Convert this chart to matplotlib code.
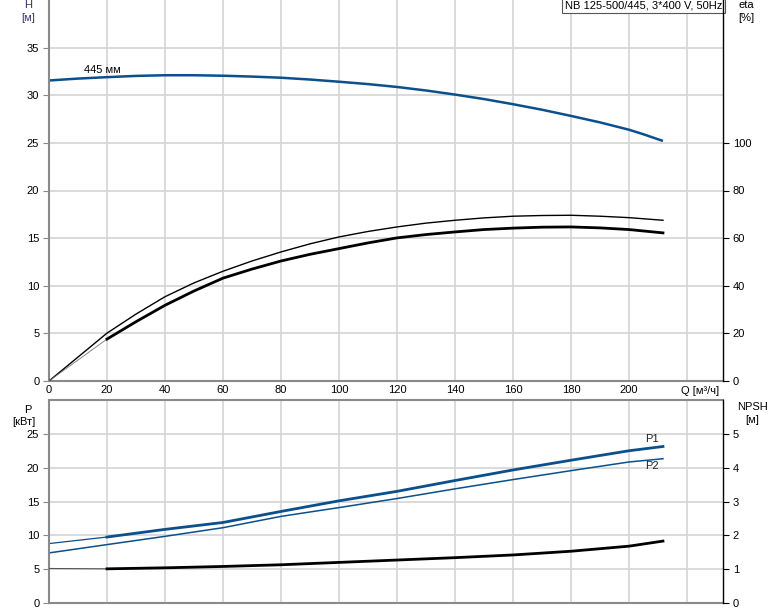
import numpy as np
import matplotlib.pyplot as plt
from matplotlib.transforms import blended_transform_factory

plt.rcParams['font.family'] = ['Liberation Sans', 'DejaVu Sans']
plt.rcParams['font.size'] = 8

# flow, m3/h
q_h = [0, 10, 20, 30, 40, 50, 60, 70, 80, 90, 100, 110, 120, 130, 140, 150,
       160, 170, 180, 190, 200, 205, 211.7]
head = [31.55, 31.75, 31.9, 32.03, 32.1, 32.1, 32.05, 31.96, 31.84, 31.65, 31.42,
        31.17, 30.87, 30.5, 30.07, 29.6, 29.06, 28.48, 27.83, 27.15, 26.38, 25.9, 25.2]

# efficiency, %
q_eta = [0, 20, 30, 40, 50, 60, 70, 80, 90, 100, 110, 120, 130, 140, 150,
         160, 170, 180, 190, 200, 211.7]
eta_pump = [0, 20.1, 28.1, 35.4, 41.2, 46.1, 50.4, 54.2, 57.6, 60.5, 62.8, 64.7,
            66.3, 67.5, 68.5, 69.2, 69.5, 69.6, 69.2, 68.6, 67.5]
eta_total = [0, 17.6, 24.9, 31.8, 37.8, 43.2, 47.0, 50.4, 53.2, 55.6, 58.0, 60.1,
             61.5, 62.6, 63.6, 64.2, 64.6, 64.7, 64.3, 63.6, 62.2]

# power, kW
q_p = [0, 20, 40, 60, 80, 100, 120, 140, 160, 180, 200, 211.7]
p1 = [8.78, 9.75, 10.88, 11.9, 13.53, 15.1, 16.5, 18.1, 19.66, 21.1, 22.5, 23.13]
p2 = [7.4, 8.63, 9.85, 11.13, 12.8, 14.1, 15.44, 16.87, 18.24, 19.56, 20.84, 21.32]

# NPSH, m
npsh = [1.02, 1.01, 1.04, 1.08, 1.13, 1.2, 1.27, 1.34, 1.42, 1.53, 1.68, 1.83]

blue = '#0b4f8c'
grid_c = '#d4d4d4'
spine_c = '#8a8a8a'
W, H = 774, 611

fig = plt.figure(figsize=(7.74, 6.11), dpi=100)
ax1 = fig.add_axes([49 / W, 1 - 381 / H, 674 / W, 381 / H])
ax2 = fig.add_axes([49 / W, 1 - 603 / H, 674 / W, 203 / H])

xmax = 232.4
xt = np.arange(0, 221, 20)

for ax in (ax1, ax2):
    ax.set_xlim(0, xmax)
    ax.set_xticks(xt)
    ax.grid(True, color=grid_c, linewidth=1.2)
    ax.set_axisbelow(True)
    ax.spines['left'].set_color(spine_c)
    ax.spines['left'].set_linewidth(1.5)
    ax.spines['bottom'].set_color(spine_c)
    ax.spines['bottom'].set_linewidth(1.5)
    ax.spines['right'].set_visible(False)
    ax.tick_params(axis='y', length=4, color=spine_c, pad=3)
    ax.tick_params(axis='x', length=0, pad=3)

ax1.spines['top'].set_visible(False)
ax2.spines['top'].set_color(spine_c)
ax2.spines['top'].set_linewidth(1.5)

# --- top panel: head and efficiency
ax1.set_ylim(0, 40)
ax1.set_yticks(np.arange(0, 36, 5))
labels = [str(v) for v in xt[:-1]] + ['']
ax1.set_xticklabels(labels)
ax1.plot(q_h, head, color=blue, linewidth=1.8, solid_capstyle='butt')
ax1.text(12, 32.1, '445 мм', fontsize=8, ha='left', va='bottom')

ax1r = ax1.twinx()
ax1r.set_ylim(0, 160)
ax1r.set_yticks(np.arange(0, 101, 20))
ax1r.set_xlim(0, xmax)
for s in ('top', 'left', 'bottom'):
    ax1r.spines[s].set_visible(False)
ax1r.spines['right'].set_color('black')
ax1r.spines['right'].set_linewidth(1.0)
ax1r.tick_params(axis='y', length=4, color='black', pad=3)
ax1r.plot(q_eta, eta_pump, color='black', linewidth=1.0)
ax1r.plot(q_eta[:2], eta_total[:2], color='#777777', linewidth=0.6)
ax1r.plot(q_eta[1:], eta_total[1:], color='black', linewidth=2.0)

trans = blended_transform_factory(ax1.transData, ax1.transAxes)
ax1.text(224.6, -0.012, 'Q [м³/ч]', transform=trans, ha='center', va='top', fontsize=8)

fig.text(28 / W, 1 - 5 / H, 'H', ha='center', va='center', color='#3a2f6b')
fig.text(28 / W, 1 - 18 / H, '[м]', ha='center', va='center', color='#3a2f6b')
fig.text(746 / W, 1 - 5 / H, 'eta', ha='center', va='center')
fig.text(746 / W, 1 - 18 / H, '[%]', ha='center', va='center')
ax1.text(0.9985, 0.9985, 'NB 125-500/445, 3*400 V, 50Hz', transform=ax1.transAxes,
         ha='right', va='top', fontsize=8,
         bbox=dict(boxstyle='square,pad=0.25', facecolor='white', edgecolor='#555555', linewidth=0.8))

# --- bottom panel: power and NPSH
ax2.set_ylim(0, 30)
ax2.set_yticks(np.arange(0, 26, 5))
ax2.set_xticklabels([])
ax2.plot(q_p[:2], p1[:2], color=blue, linewidth=0.9)
ax2.plot(q_p[1:], p1[1:], color=blue, linewidth=2.0)
ax2.plot(q_p, p2, color=blue, linewidth=1.1)
ax2.text(208, p1[-1] + 0.4, 'P1', ha='center', va='bottom', fontsize=8, color='#222222')
ax2.text(208, p2[-1] - 0.4, 'P2', ha='center', va='top', fontsize=8, color='#222222')

ax2r = ax2.twinx()
ax2r.set_ylim(0, 6)
ax2r.set_yticks(np.arange(0, 6, 1))
ax2r.set_xlim(0, xmax)
for s in ('top', 'left', 'bottom'):
    ax2r.spines[s].set_visible(False)
ax2r.spines['right'].set_color('black')
ax2r.spines['right'].set_linewidth(1.0)
ax2r.tick_params(axis='y', length=4, color='black', pad=3)
ax2r.plot(q_p[:2], npsh[:2], color='#555555', linewidth=0.8)
ax2r.plot(q_p[1:], npsh[1:], color='black', linewidth=2.0)

fig.text(28 / W, 1 - 410 / H, 'P', ha='center', va='center')
fig.text(24 / W, 1 - 422 / H, '[кВт]', ha='center', va='center')
fig.text(752 / W, 1 - 407 / H, 'NPSH', ha='center', va='center')
fig.text(752 / W, 1 - 420 / H, '[м]', ha='center', va='center')

fig.savefig('out.png', dpi=100)
